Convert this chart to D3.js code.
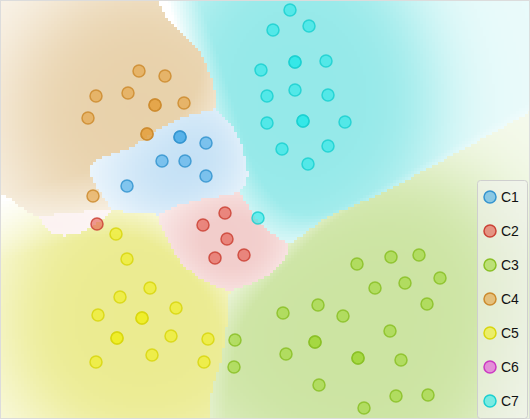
<!DOCTYPE html>
<html lang="en">
<head>
<meta charset="UTF-8">
<title>Class regions</title>
<script src="https://d3js.org/d3.v7.min.js"></script>
<style>
  body { margin: 0; background: #fff; }
  svg { display: block; font-family: "Liberation Sans", Arial, sans-serif; }
</style>
</head>
<body>
<script>

// class labels and colours
const classes = ["C1", "C2", "C3", "C4", "C5", "C6", "C7"];
const pointColors = ["#3aa5e6", "#e2493b", "#9ad62a", "#e39b33", "#f0ee10", "#e23fd8", "#1ee8e8"];
const regionColors = ["#c3e0f5", "#f1c9c7", "#cce4a2", "#e8d1aa", "#ebeb90", "#f2c6ef", "#95e9e9"];
// class weights used when the background is classified (near / far from samples)
const localWeights = [1.6, 1, 1, 1, 1, 1, 1];
const wideWeights = [1, 1, 2.4, 1, 1.8, 1, 2.5];

// samples per class, [x, y]
const c1 = [[3.60,5.64],[3.60,5.64],[4.12,5.52],[3.24,5.16],[3.70,5.16],[4.12,4.86],[2.54,4.66]];
const c2 = [[4.50,4.12],[4.06,3.88],[4.54,3.60],[4.30,3.22],[4.88,3.28],[1.94,3.90]];
const c3 = [[4.70,1.58],[4.68,1.04],[7.14,3.10],[7.82,3.24],[8.38,3.28],[8.80,2.82],[7.50,2.62],
            [8.10,2.72],[8.54,2.30],[5.66,2.12],[6.36,2.28],[6.86,2.06],[7.80,1.76],[6.30,1.54],
            [6.30,1.54],[5.72,1.30],[7.16,1.22],[7.16,1.22],[8.02,1.18],[6.38,0.68],[7.92,0.46],
            [8.56,0.48],[7.28,0.22]];
const c4 = [[2.78,6.96],[3.30,6.86],[1.92,6.46],[2.56,6.52],[3.10,6.28],[3.10,6.28],[3.68,6.32],
            [1.76,6.02],[2.94,5.70],[2.94,5.70],[1.86,4.46]];
const c5 = [[2.32,3.70],[2.54,3.20],[3.00,2.62],[2.40,2.44],[3.52,2.22],[1.96,2.08],[2.84,2.02],
            [2.84,2.02],[2.34,1.62],[2.34,1.62],[3.42,1.66],[4.16,1.60],[3.04,1.28],[1.92,1.14],
            [4.08,1.14]];
const c6 = [];
const c7 = [[5.80,8.18],[6.18,7.86],[5.46,7.78],[5.22,6.98],[5.90,7.14],[5.90,7.14],[6.52,7.16],
            [5.34,6.46],[5.90,6.58],[6.56,6.48],[5.34,5.92],[6.06,5.96],[6.06,5.96],[6.90,5.94],
            [5.64,5.40],[6.56,5.46],[6.16,5.10],[5.16,4.02]];

const samples = [c1, c2, c3, c4, c5, c6, c7];
const points = [];
samples.forEach((arr, k) => arr.forEach(p => points.push({x: p[0], y: p[1], k: k})));

const W = 530, H = 420;
const x = d3.scaleLinear().domain([0, 10.6]).range([0, 530]);
const y = d3.scaleLinear().domain([0, 8.38]).range([419, 0]);

const svg = d3.select("body").append("svg").attr("width", W).attr("height", H);

// ---- background: kernel class scores on a coarse grid (pixel units) ----
const cell = 3;
const canvas = document.createElement("canvas");
canvas.width = W; canvas.height = 419;
const ctx = canvas.getContext("2d");
const sigC = 28, yWeight = 2.2;   // local classification kernel
const sigW = 70, lambda = 0.03;   // wide kernel, takes over far from the samples
const sigG = 45;                  // confidence kernel
const sigD = 60;                  // density kernel
const rgb = regionColors.map(c => d3.rgb(c));
const pix = points.map(p => ({px: x(p.x), py: y(p.y), k: p.k}));

for (let py = 0; py < 419; py += cell) {
  for (let px = 0; px < W; px += cell) {
    const cx = px + cell / 2, cy = py + cell / 2;
    const s = new Array(classes.length).fill(0);
    const q = new Array(classes.length).fill(0);
    const dens = new Array(classes.length).fill(0);
    pix.forEach(p => {
      const ddx = p.px - cx, ddy = p.py - cy;
      const d2 = ddx * ddx + ddy * ddy;
      s[p.k] += localWeights[p.k] * Math.exp(-(ddx * ddx + yWeight * ddy * ddy) / (2 * sigC * sigC))
              + lambda * wideWeights[p.k] * Math.exp(-d2 / (2 * sigW * sigW));
      q[p.k] += Math.exp(-d2 / (2 * sigG * sigG));
      dens[p.k] += Math.exp(-d2 / (2 * sigD * sigD));
    });
    let best = 0, qt = 0;
    for (let k = 0; k < s.length; k++) { qt += q[k]; if (s[k] > s[best]) best = k; }
    const pr = qt > 0 ? q[best] / qt : 1;
    const g = Math.pow(Math.max(0, Math.min(1, (pr - 0.15) / 0.4)), 0.6);
    const h = 0.2 + 0.8 * (1 - Math.exp(-dens[best] / 2));
    const t = g * h;
    const c = rgb[best];
    const r = Math.round(255 + (c.r - 255) * t);
    const gg = Math.round(255 + (c.g - 255) * t);
    const b = Math.round(255 + (c.b - 255) * t);
    ctx.fillStyle = `rgb(${r},${gg},${b})`;
    ctx.fillRect(px, py, cell, cell);
  }
}

svg.append("image")
  .attr("x", 0).attr("y", 0)
  .attr("width", W).attr("height", 419)
  .attr("href", canvas.toDataURL());

// frame
svg.append("rect")
  .attr("x", 0.5).attr("y", 0.5)
  .attr("width", W - 1).attr("height", 418)
  .attr("fill", "none")
  .attr("stroke", "#dcdcdc");

// sample points
svg.append("g").selectAll("circle")
  .data(points)
  .enter().append("circle")
  .attr("cx", d => x(d.x))
  .attr("cy", d => y(d.y))
  .attr("r", 6)
  .attr("fill", d => pointColors[d.k])
  .attr("fill-opacity", 0.55)
  .attr("stroke", d => d3.rgb(pointColors[d.k]).darker(0.3))
  .attr("stroke-opacity", 0.85)
  .attr("stroke-width", 1.5);

// legend
const legend = svg.append("g").attr("transform", "translate(477,180)");
legend.append("rect")
  .attr("x", 0.5).attr("y", 0.5)
  .attr("width", 50).attr("height", 238)
  .attr("rx", 3)
  .attr("fill", "#f2f2f2").attr("fill-opacity", 0.55)
  .attr("stroke", "#cfcfcf");

const item = legend.selectAll("g.item")
  .data(classes)
  .enter().append("g")
  .attr("class", "item")
  .attr("transform", (d, i) => `translate(13,${17 + i * 34})`);

item.append("circle")
  .attr("r", 6)
  .attr("fill", (d, i) => pointColors[i])
  .attr("fill-opacity", 0.55)
  .attr("stroke", (d, i) => d3.rgb(pointColors[i]).darker(0.3))
  .attr("stroke-width", 1.5);

item.append("text")
  .attr("x", 11)
  .attr("dy", "0.35em")
  .attr("font-size", 14)
  .attr("fill", "#111")
  .text(d => d);

</script>
</body>
</html>
